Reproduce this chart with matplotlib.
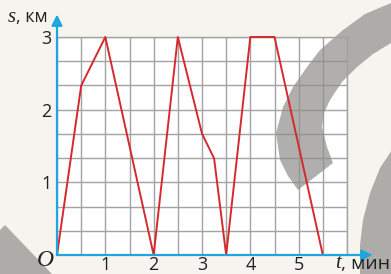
import numpy as np
import matplotlib
matplotlib.use("Agg")
import matplotlib.pyplot as plt
from matplotlib.patches import Polygon
from matplotlib import transforms as mtransforms

# motion graph: time (min) vs distance (km)
t_min = [0, 0.5, 1, 2, 2.5, 3, 3.25, 3.5, 4, 4.5, 5.5]
s_km = [0, 2.33, 3, 0, 3, 1.67, 1.33, 0, 3, 3, 0]
x_ticks = [1, 2, 3, 4, 5]
y_ticks = [1, 2, 3]

BG = "#f7f4ef"
BLUE = "#1ea6e0"
RED = "#d42a2e"
GRID = "#a3a3a3"
SHADE = "#8f8e8a"
INK = "#222222"

plt.rcParams["font.family"] = ["Open Sans", "DejaVu Sans"]

fig = plt.figure(figsize=(3.91, 2.74), dpi=100, facecolor=BG)
ax = fig.add_axes([57 / 391, 19 / 274, 290 / 391, 218 / 274])
ax.set_facecolor("white")
ax.set_xlim(0, 6)
ax.set_ylim(0, 3)

ax.set_xticks(np.arange(0, 6.01, 0.5), minor=True)
ax.set_yticks(np.arange(0, 3.01, 1 / 3), minor=True)
ax.set_xticks(x_ticks)
ax.set_yticks(y_ticks)
ax.set_xticklabels([str(v) for v in x_ticks], fontsize=13, color=INK)
ax.set_yticklabels([str(v) for v in y_ticks], fontsize=13, color=INK)
ax.tick_params(which="both", length=0)
ax.tick_params(axis="x", pad=1)
ax.tick_params(axis="y", pad=4)
ax.grid(which="both", color=GRID, lw=1.0)
ax.set_axisbelow(True)

for side in ("top", "right"):
    ax.spines[side].set_color(GRID)
    ax.spines[side].set_linewidth(1.0)
for side in ("left", "bottom"):
    ax.spines[side].set_visible(False)

# axes with arrows
ax.annotate("", xy=(0, 3.31), xytext=(0, 0), annotation_clip=False,
            arrowprops=dict(arrowstyle="-|>", color=BLUE, lw=1.6,
                            mutation_scale=16, shrinkA=0, shrinkB=0), zorder=4)
ax.annotate("", xy=(6.53, 0), xytext=(0, 0), annotation_clip=False,
            arrowprops=dict(arrowstyle="-|>", color=BLUE, lw=1.6,
                            mutation_scale=16, shrinkA=0, shrinkB=0), zorder=4)

# decorative gray shapes, image pixel coords (y down)
pix = mtransforms.Affine2D().scale(1, -1).translate(0, 274)
band_pts = [(395, 0), (391, 3), (365, 14), (343, 30), (320, 50), (307, 67),
            (293, 87), (283, 107), (276, 133), (280, 160), (288, 176),
            (298, 190), (333, 163), (327, 147), (322, 127), (324, 113),
            (330, 100), (342, 82), (357, 67), (373, 54), (391, 43), (395, 0)]
tri_pts = [(0, 230), (5, 225), (52, 274), (0, 274)]
blob_pts = [(392, 150), (380, 168), (370, 193), (363, 220), (360, 245),
            (360, 274), (392, 274)]
for pts in (band_pts, tri_pts, blob_pts):
    ax.add_patch(Polygon(pts, closed=True, facecolor=SHADE, alpha=0.7,
                         edgecolor="none", transform=pix, clip_on=False,
                         zorder=1.5))

ax.plot(t_min, s_km, color=RED, lw=1.4, zorder=3, clip_on=False)

# labels
fig.text(8 / 391, 1 - 17 / 274, "s", fontsize=15, style="italic",
         family="Liberation Serif", va="center", color=INK)
fig.text(16 / 391, 1 - 17 / 274, ", км", fontsize=13, va="center", color=INK)
fig.text(45 / 391, 1 - 261 / 274, "O", fontsize=17, style="italic",
         family="Liberation Serif", va="center", ha="center", color=INK)
fig.text(335 / 391, 1 - 264 / 274, "t", fontsize=15, style="italic",
         family="Liberation Serif", va="center", color=INK)
fig.text(341 / 391, 1 - 264 / 274, ", мин", fontsize=14, va="center", color=INK)

fig.savefig("out.png", dpi=100, facecolor=BG)
